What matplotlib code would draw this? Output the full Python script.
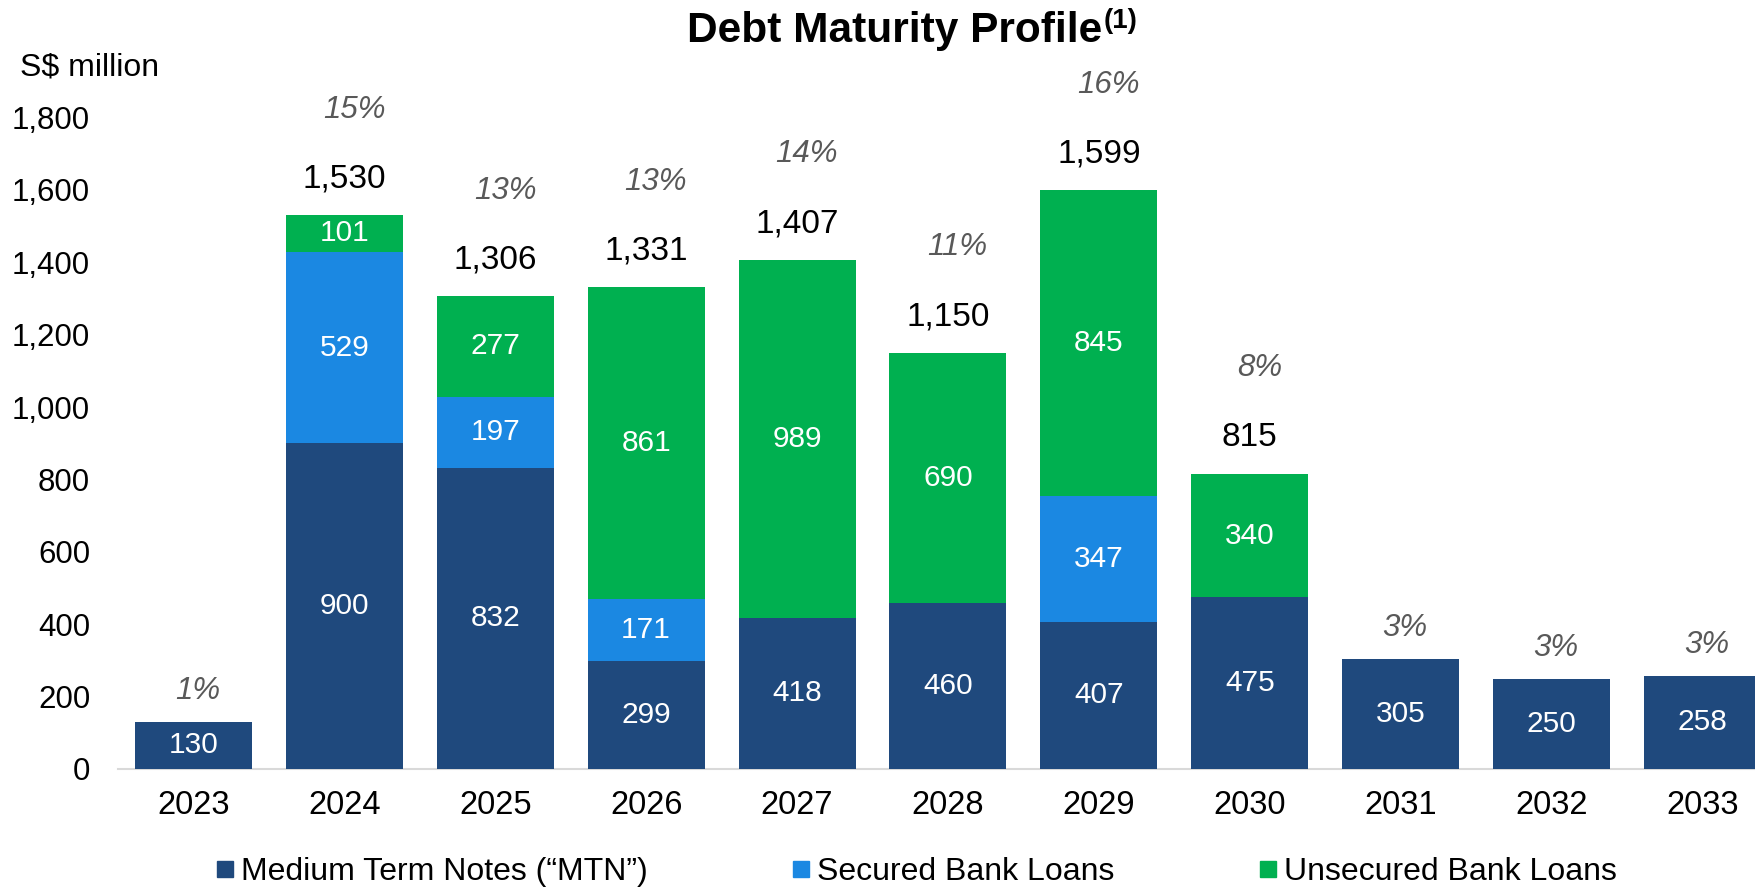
import matplotlib
matplotlib.use("Agg")
import matplotlib.pyplot as plt
from matplotlib.lines import Line2D
import numpy as np

plt.rcParams['font.family'] = ['Liberation Sans', 'DejaVu Sans']

years = ["2023", "2024", "2025", "2026", "2027", "2028", "2029", "2030", "2031", "2032", "2033"]
mtn = [130, 900, 832, 299, 418, 460, 407, 475, 305, 250, 258]
secured = [0, 529, 197, 171, 0, 0, 347, 0, 0, 0, 0]
unsecured = [0, 101, 277, 861, 989, 690, 845, 340, 0, 0, 0]
share_pct = [1, 15, 13, 13, 14, 11, 16, 8, 3, 3, 3]

series_names = ["Medium Term Notes (\u201cMTN\u201d)", "Secured Bank Loans", "Unsecured Bank Loans"]
colors = ["#1F497D", "#1B88E2", "#00B050"]

W, H, DPI = 1755, 889, 100
fig = plt.figure(figsize=(W / DPI, H / DPI), dpi=DPI)
ax = fig.add_axes([118 / W, 1 - 769 / H, 1 - 118 / W, (769 - 81.3) / H])

x = np.arange(len(years))
width = 0.775
stacks = [np.array(mtn), np.array(secured), np.array(unsecured)]
bottom = np.zeros(len(years))
for vals, col in zip(stacks, colors):
    ax.bar(x, vals, width, bottom=bottom, color=col, edgecolor="none", zorder=2)
    for xi, v, b in zip(x, vals, bottom):
        if v > 0:
            ax.text(xi, b + v / 2, f"{v:,}", ha="center", va="center",
                    color="white", fontsize=21.5, zorder=3)
    bottom = bottom + vals

totals = bottom
for xi, t, p, parts in zip(x, totals, share_pct, zip(*stacks)):
    multi = sum(1 for v in parts if v > 0) > 1
    if multi:
        ax.annotate(f"{int(t):,}", (xi, t), xytext=(0, 26), textcoords="offset points",
                    ha="center", va="center", fontsize=24, color="black")
        ax.annotate(f"{p}%", (xi, t), xytext=(7, 76), textcoords="offset points",
                    ha="center", va="center", fontsize=22.5, color="#595959", style="italic")
    else:
        ax.annotate(f"{p}%", (xi, t), xytext=(3, 22), textcoords="offset points",
                    ha="center", va="center", fontsize=22.5, color="#595959", style="italic")

ax.set_xlim(-0.5, 10.348)
ax.set_ylim(0, 1900)
ax.set_yticks(np.arange(0, 1801, 200))
ax.set_yticklabels([f"{v:,}" for v in range(0, 1801, 200)])
ax.set_xticks(x)
ax.set_xticklabels(years)
ax.tick_params(axis="y", length=0, pad=20, labelsize=22.5)
ax.tick_params(axis="x", length=0, pad=15, labelsize=23.5)
for s in ["top", "right", "left"]:
    ax.spines[s].set_visible(False)
ax.spines["bottom"].set_color("#D9D9D9")
ax.spines["bottom"].set_linewidth(1.5)
ax.spines["bottom"].set_zorder(1)

fig.text(20 / W, 1 - 67 / H, "S$ million", fontsize=23, ha="left", va="center")

# title with superscript note marker
title = fig.text(895 / W, 1 - 31 / H, "Debt Maturity Profile", fontsize=30.5,
                 fontweight="bold", ha="center", va="center")
fig.canvas.draw()
bb = title.get_window_extent(fig.canvas.get_renderer())
fig.text(bb.x1 / W + 1 / W, bb.y1 / H - 10 / H, "(1)", fontsize=20, fontweight="bold",
         ha="left", va="center")

handles = [Line2D([0], [0], marker="s", linestyle="none", markersize=12,
                  markerfacecolor=c, markeredgecolor=c) for c in colors]
fig.legend(handles, series_names, loc="center", bbox_to_anchor=(916 / W, 1 - 872 / H),
           ncol=3, frameon=False, fontsize=23, handlelength=0.6, handletextpad=0.2,
           columnspacing=4.5, borderaxespad=0)

fig.savefig("out.png", dpi=DPI)
